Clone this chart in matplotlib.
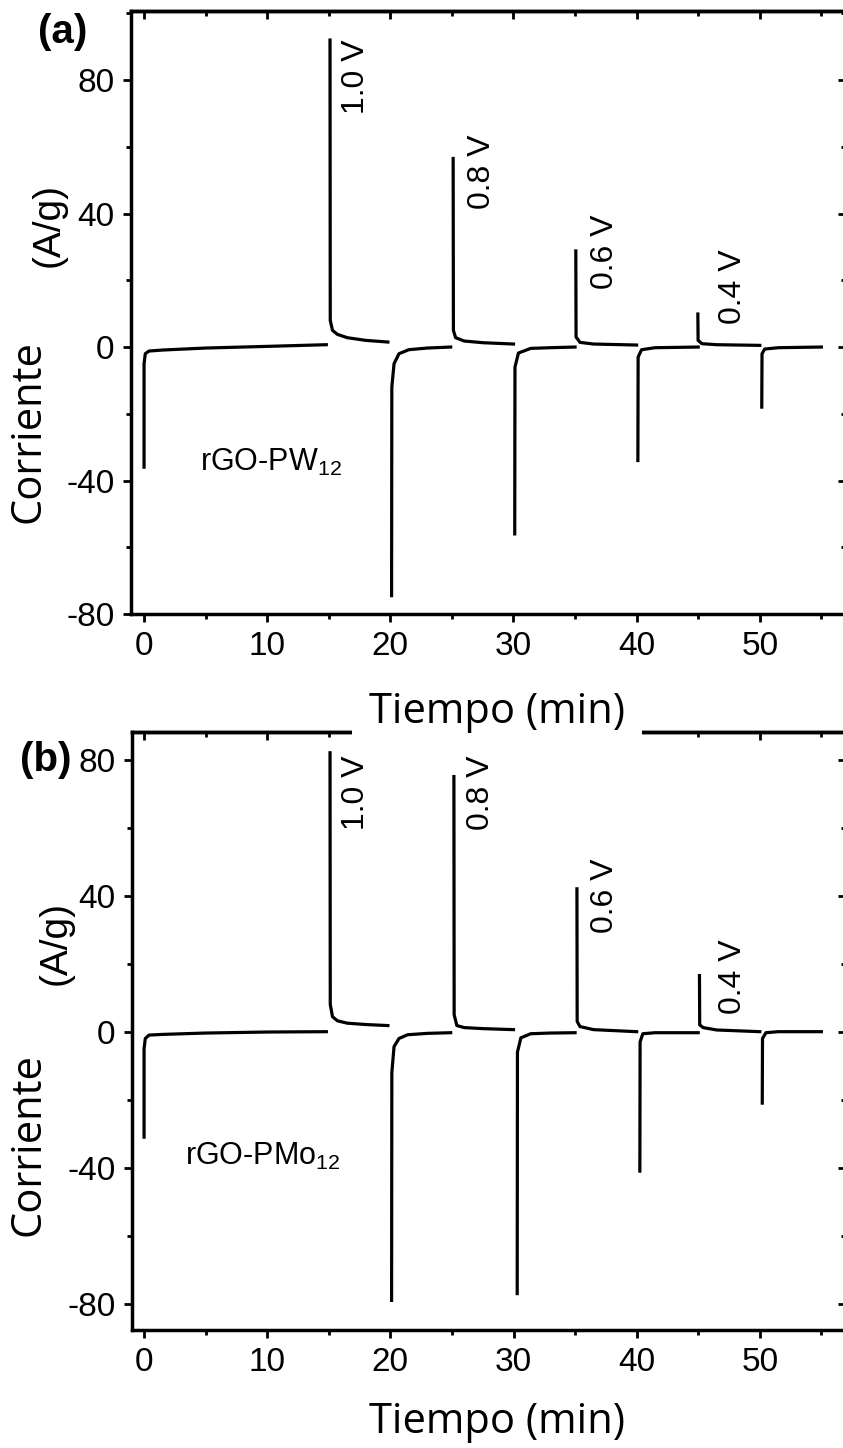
import matplotlib
matplotlib.use("Agg")
import matplotlib.pyplot as plt
from matplotlib import font_manager
from matplotlib.ticker import MultipleLocator, NullFormatter

# fuentes disponibles
names = {f.name for f in font_manager.fontManager.ttflist}
if "Liberation Sans Narrow" in names:
    num_font, num_size, ann_size = "Liberation Sans Narrow", 27, 27
else:
    num_font, num_size, ann_size = "Liberation Sans", 24, 23

plt.rcParams["axes.unicode_minus"] = False
plt.rcParams["mathtext.fontset"] = "custom"
plt.rcParams["mathtext.rm"] = num_font
plt.rcParams["mathtext.default"] = "rm"

# ---- datos panel (a): rGO-PW12 ----
t_a = [
    [0.0, 0.0, 0.1, 0.4, 1.5, 5.0, 10.0, 14.8],
    [15.1, 15.12, 15.3, 15.7, 16.5, 18.0, 19.8],
    [20.1, 20.12, 20.3, 20.7, 21.5, 23.0, 24.9],
    [25.1, 25.12, 25.3, 26.0, 27.5, 30.0],
    [30.1, 30.12, 30.4, 31.4, 33.0, 35.0],
    [35.06, 35.08, 35.4, 36.5, 40.0],
    [40.1, 40.12, 40.4, 41.5, 45.0],
    [44.97, 44.99, 45.3, 46.5, 50.0],
    [50.16, 50.18, 50.4, 51.5, 55.0],
]
i_a = [
    [-36, -5, -2, -1.2, -0.9, -0.3, 0.2, 0.7],
    [92, 8, 5, 3.8, 2.8, 2.0, 1.5],
    [-74.5, -12, -5, -2, -0.8, -0.3, 0.0],
    [56.5, 5, 2.8, 1.8, 1.3, 0.9],
    [-56, -6, -1.8, -0.4, -0.2, 0.0],
    [28.8, 3, 1.4, 0.9, 0.6],
    [-34, -3, -0.8, -0.2, 0.0],
    [9.9, 2, 1.0, 0.7, 0.5],
    [-18, -2, -0.6, -0.2, 0.0],
]

# ---- datos panel (b): rGO-PMo12 ----
t_b = [
    [0.0, 0.0, 0.1, 0.4, 1.5, 5.0, 10.0, 14.8],
    [15.1, 15.12, 15.3, 15.7, 16.5, 18.0, 19.8],
    [20.1, 20.12, 20.3, 20.7, 21.4, 23.0, 24.9],
    [25.16, 25.18, 25.4, 26.0, 27.5, 30.0],
    [30.3, 30.32, 30.6, 31.4, 33.0, 35.0],
    [35.15, 35.17, 35.4, 36.5, 40.0],
    [40.26, 40.28, 40.5, 41.5, 45.0],
    [45.1, 45.12, 45.4, 46.5, 50.0],
    [50.2, 50.22, 50.5, 51.5, 55.0],
]
i_b = [
    [-31, -5, -2, -1.0, -0.8, -0.4, -0.1, 0.0],
    [82, 8, 4.4, 3.2, 2.5, 2.1, 1.8],
    [-79, -12, -4.4, -2, -0.9, -0.5, -0.3],
    [75, 5, 1.8, 1.2, 0.9, 0.6],
    [-77, -6, -1.8, -0.6, -0.4, -0.3],
    [42, 3, 1.5, 0.6, 0.0],
    [-41, -3, -0.6, -0.3, -0.3],
    [16.5, 2, 1.2, 0.5, 0.0],
    [-21, -2, -0.3, 0.0, 0.0],
]

volt_labels = ["1.0 V", "0.8 V", "0.6 V", "0.4 V"]
volt_x_a = [17.25, 27.45, 37.45, 47.8]
volt_y_a = [80.9, 52.4, 28.7, 18.2]
volt_x_b = [17.25, 27.4, 37.4, 47.8]
volt_y_b = [70.2, 70.2, 39.9, 16.1]

xticks = [0, 10, 20, 30, 40, 50]
yticks_a = [-80, -40, 0, 40, 80]
yticks_b = [-80, -40, 0, 40, 80]

W, H = 843, 1448
fig = plt.figure(figsize=(W / 100, H / 100), dpi=100)


def px_axes(left, top, right, bottom):
    return fig.add_axes([left / W, 1 - bottom / H, (right - left) / W, (bottom - top) / H])


def style(ax, yticks):
    for s in ax.spines.values():
        s.set_linewidth(2.5)
    ax.set_xticks(xticks)
    ax.set_yticks(yticks)
    ax.xaxis.set_minor_locator(MultipleLocator(5))
    ax.yaxis.set_minor_locator(MultipleLocator(20))
    ax.tick_params(which="major", direction="out", length=6, width=2, pad=6)
    ax.tick_params(which="minor", direction="out", length=3.5, width=2)
    for lab in ax.get_xticklabels() + ax.get_yticklabels():
        lab.set_fontfamily(num_font)
        lab.set_fontsize(num_size)
    top = ax.secondary_xaxis("top")
    top.set_xticks(xticks)
    top.xaxis.set_minor_locator(MultipleLocator(5))
    top.xaxis.set_major_formatter(NullFormatter())
    top.tick_params(which="major", direction="in", length=6, width=2)
    top.tick_params(which="minor", direction="in", length=3.5, width=2)
    top.spines["top"].set_linewidth(2.5)
    right = ax.secondary_yaxis("right")
    right.set_yticks(yticks)
    right.yaxis.set_minor_locator(MultipleLocator(20))
    right.yaxis.set_major_formatter(NullFormatter())
    right.tick_params(which="major", direction="in", length=6, width=2)
    right.tick_params(which="minor", direction="in", length=3.5, width=2)


def draw(ax, ts, cs, vx, vy, sample, sx, sy):
    for t, c in zip(ts, cs):
        ax.plot(t, c, color="black", lw=2.3, solid_joinstyle="round")
    for lab, x, y in zip(volt_labels, vx, vy):
        ax.text(x, y, lab, rotation=90, ha="center", va="center",
                fontfamily=num_font, fontsize=ann_size)
    ax.text(sx, sy, sample, ha="left", va="baseline",
            fontfamily=num_font, fontsize=ann_size - 1)


ax_a = px_axes(131, 11, 846, 614)
ax_a.set_xlim(-1.06, 57.0)
ax_a.set_ylim(-80, 100.7)
draw(ax_a, t_a, i_a, volt_x_a, volt_y_a, "rGO-PW$_{12}$", 4.55, -37)
style(ax_a, yticks_a)

ax_b = px_axes(132, 732, 846, 1330)
ax_b.set_xlim(-0.98, 57.0)
ax_b.set_ylim(-87.7, 88.1)
draw(ax_b, t_b, i_b, volt_x_b, volt_y_b, "rGO-PMo$_{12}$", 3.33, -39.2)
style(ax_b, yticks_b)


def ftext(x, y, s, **kw):
    return fig.text(x / W, 1 - y / H, s, ha="center", va="center", **kw)


# etiquetas de los ejes
ftext(29, 432, "Corriente", rotation=90, fontfamily="Open Sans", fontsize=30)
ftext(49, 225, "(A/g)", rotation=90, fontfamily="Liberation Sans", fontsize=28)
ftext(29, 1145, "Corriente", rotation=90, fontfamily="Open Sans", fontsize=30)
ftext(56, 943, "(A/g)", rotation=90, fontfamily="Liberation Sans", fontsize=28)

ftext(497, 712, "Tiempo (min)", fontfamily="Open Sans", fontsize=30, zorder=10,
      bbox=dict(boxstyle="square,pad=0.4", facecolor="white", edgecolor="none"))
ftext(497, 1422, "Tiempo (min)", fontfamily="Open Sans", fontsize=30)

ftext(63, 32, "(a)", fontfamily="Liberation Sans", fontweight="bold", fontsize=29)
ftext(46, 760, "(b)", fontfamily="Liberation Sans", fontweight="bold", fontsize=29)

fig.savefig("out.png", dpi=100)
